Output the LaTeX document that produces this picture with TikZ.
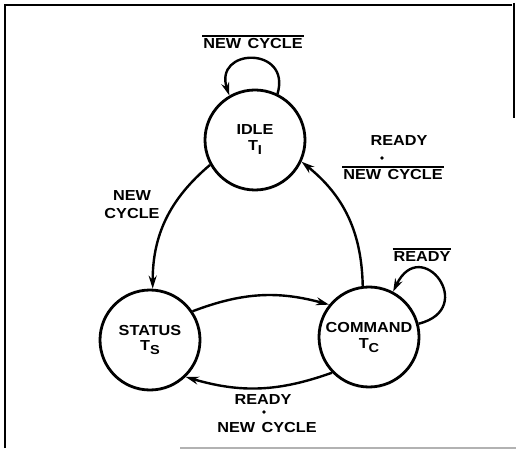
\documentclass[tikz,border=0pt]{standalone}
\usepackage{fontspec}
\setmainfont{Liberation Sans}[FakeStretch=1.12]
\usetikzlibrary{arrows.meta}
\newcommand{\lblfont}{\fontsize{14.5}{17}\selectfont\bfseries\spaceskip=0.45em}
\newcommand{\subsz}[1]{\raisebox{-4pt}{\fontsize{13}{13}\selectfont #1}}
\newcommand{\ovl}[1]{\vbox{\hrule height 1.3pt\kern 2pt\hbox{\kern1pt #1\kern1pt}}}
\begin{document}
\begin{tikzpicture}[x=1pt,y=1pt,
  state/.style={circle,draw,line width=2.8pt,minimum size=100pt,inner sep=0pt,align=center,font=\lblfont},
  edge/.style={line width=2.4pt,-{Stealth[length=13pt,width=8pt]}},
  lbl/.style={font=\lblfont,align=center,inner sep=0pt},
  andot/.style={circle,fill,inner sep=0pt,minimum size=3.6pt},
  frame/.style={line width=2.4pt}]
\useasboundingbox (0,0) rectangle (516,450);
% frame
\coordinate (f1) at (5,2);
\coordinate (f2) at (5,445);
\coordinate (f3) at (512,445);
\coordinate (f4) at (514,447);
\coordinate (f5) at (514,332);
\coordinate (g1) at (180,2);
\coordinate (g2) at (516,2);
\draw[frame] (f1) -- (f2) -- (f3);
\draw[line width=1.4pt] (f4) -- (f5);
\draw[line width=1.2pt,gray!60] (g1) -- (g2);
% states
\node[state] (idle) at (255,310) {IDLE\\[-1pt]T\subsz{I}};
\node[state] (status) at (150,110) {STATUS\\[-1pt]T\subsz{S}};
\node[state] (command) at (369,113) {COMMAND\\[-1pt]T\subsz{C}};
% self loops
\draw[edge] (idle.64) .. controls +(14,48) and +(-16,48) .. (idle.120);
\draw[edge] (command.15) .. controls +(60,15) and +(28,58) .. (command.62);
% transitions
\draw[edge] (idle.209) to[bend right=25] (status.87);
\draw[edge] (command.97) to[bend right=25] (idle.-25);
\draw[edge] (status.34) to[bend left=18] (command.141);
\draw[edge] (command.224) to[bend left=18] (status.-46);
% labels
\node[lbl] (lnc) at (253,408) {\ovl{NEW CYCLE}};
\node[lbl] (lnewc) at (132,245) {NEW\\[1pt]CYCLE};
\node[lbl] (lrdy) at (422,195) {\ovl{READY}};
\node[lbl] (lr1) at (399,309) {READY};
\node[andot] (ld1) at (382,292) {};
\node[lbl] (ln1) at (393,277) {\ovl{NEW CYCLE}};
\node[lbl] (lr2) at (263,50) {READY};
\node[andot] (ld2) at (264,38) {};
\node[lbl] (ln2) at (267,22) {NEW CYCLE};
\end{tikzpicture}
\end{document}
